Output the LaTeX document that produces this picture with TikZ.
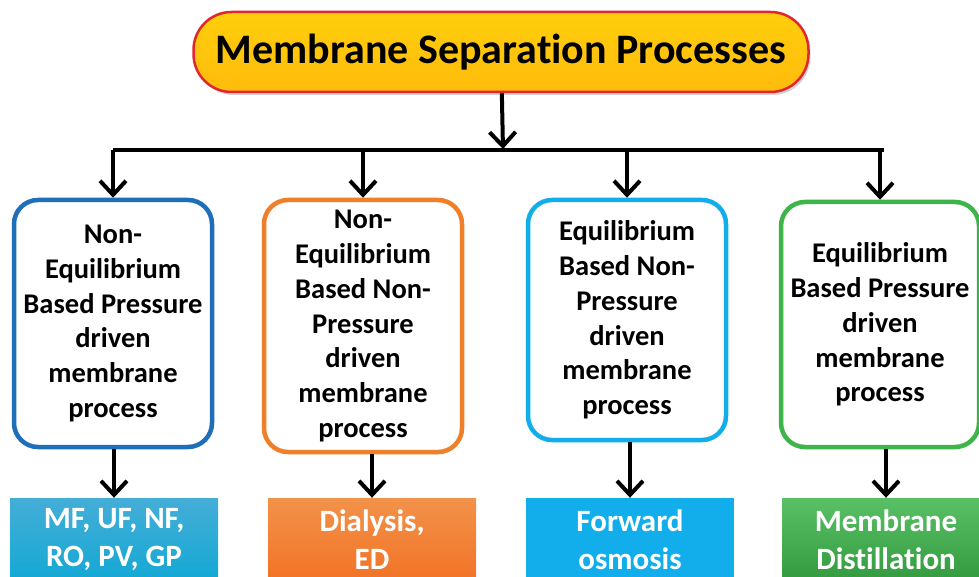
\documentclass[tikz,border=0pt]{standalone}
\usepackage{fontspec}
\setmainfont{Carlito}[Ligatures=NoCommon]
\usetikzlibrary{arrows.meta,shadows}
\definecolor{headfill}{HTML}{FFC20E}
\definecolor{headline}{HTML}{E3262D}
\definecolor{cblue}{HTML}{1F6EB8}
\definecolor{corange}{HTML}{F07F2A}
\definecolor{csky}{HTML}{12AEEB}
\definecolor{cgreen}{HTML}{3DB54A}
\tikzset{
  headbox/.style={draw=headline, line width=2.5pt, top color=headfill!80!yellow, bottom color=headfill!90!orange,
    rounded corners=38pt, minimum width=615pt, minimum height=80pt, inner sep=0pt,
    drop shadow={opacity=0.35, shadow xshift=2pt, shadow yshift=-3pt},
    font=\fontsize{42}{44}\selectfont\bfseries},
  procbox/.style={draw=#1, line width=4.5pt, fill=white, rounded corners=24pt, minimum width=198pt,
    inner sep=0pt, align=center, font=\fontsize{28.5}{34.8}\selectfont\bfseries},
  resbox/.style={fill=#1, minimum width=208pt, minimum height=84pt, inner sep=0pt, align=center,
    text=white, font=\fontsize{31}{38}\selectfont\bfseries},
  arr/.style={line width=4pt, ->},
}
\begin{document}
\begin{tikzpicture}[x=1pt, y=-1pt, line join=round, >={Straight Barb[length=14pt,width=26pt]}]
  \clip (0,0) rectangle (979,577);
  \fill[white] (0,0) rectangle (979,577);
  % top of the tree
  \node[headbox] (title) at (501,52) {Membrane Separation Processes};
  \coordinate (bar) at (503,150);
  \coordinate (barl) at (115,150);
  \coordinate (barr) at (882,150);
  % process classes
  \node[procbox=cblue, minimum height=247pt] (nepd) at (113,323.5)
    {Non-\\Equilibrium\\Based Pressure\\driven\\membrane\\process};
  \node[procbox=corange, minimum height=252pt] (nenpd) at (363,326)
    {Non-\\Equilibrium\\Based Non-\\Pressure\\driven\\membrane\\process};
  \node[procbox=csky, minimum height=240pt] (enpd) at (627,320)
    {Equilibrium\\Based Non-\\Pressure\\driven\\membrane\\process};
  \node[procbox=cgreen, minimum height=245pt] (epd) at (880,324.5)
    {Equilibrium\\Based Pressure\\driven\\membrane\\process};
  % examples
  \node[resbox, top color=cblue!70!cyan!80!white, bottom color=cblue!60!cyan] (mf) at (114,540)
    {MF, UF, NF,\\RO, PV, GP};
  \node[resbox, top color=corange!85!white, bottom color=corange!90!red] (dial) at (372,540)
    {Dialysis,\\ED};
  \node[resbox=csky] (fo) at (630,540) {Forward\\osmosis};
  \node[resbox, top color=cgreen!85!white, bottom color=cgreen!85!black] (md) at (886,540)
    {Membrane\\Distillation};
  % connectors
  \draw[arr, shorten >=1pt] (title) -- (bar);
  \draw[line width=4pt, line cap=rect] (barl) -- (barr);
  \foreach \b in {nepd,nenpd,enpd,epd}
    \draw[arr] (\b.north|-bar) -- (\b.north);
  \foreach \a/\b in {nepd/mf,nenpd/dial,enpd/fo,epd/md}
    \draw[arr] (\b.north|-\a.south) -- (\b.north);
\end{tikzpicture}
\end{document}
